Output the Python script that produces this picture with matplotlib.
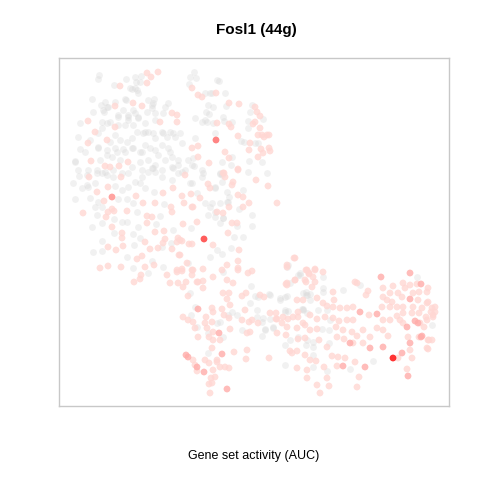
import matplotlib
matplotlib.use("Agg")
import matplotlib.pyplot as plt
import numpy as np
from matplotlib.colors import LinearSegmentedColormap, Normalize

title = "Fosl1 (44g)"
xlabel = "Gene set activity (AUC)"

# t-SNE embedding coordinates (arbitrary units) of cells, grouped by AUC level
gray_cells = [(99,75),(98,79),(141,76),(135,77),(136,82),(126,79),(114,85),(132,89),(137,90),(138,93),(92,99),(126,100),(148,100),(154,99),(152,105),(101,105),(107,107),(104,112),(93,112),(123,110),(128,115),(118,115),(135,113),(147,112),(165,107),(168,103),(155,120),(145,123),(138,118),(128,120),(118,125),(107,123),(102,122),(80,123),(102,128),(78,137),(115,135),(120,140),(127,142),(132,138),(137,132),(143,133),(148,132),(155,138),(163,133),(170,132),(175,137),(180,133),(168,148),(162,145),(155,150),(145,145),(140,152),(132,148),(123,149),(115,148),(107,150),(98,147),(80,149),(193,158),(178,160),(172,157),(165,160),(155,165),(148,160),(140,162),(120,160),(112,157),(100,160),(75,161),(78,170),(88,170),(132,167),(142,170),(153,168),(162,170),(172,167),(185,170),(97,170),(190,77),(189,84),
    (194,72),(196,78),(205,93),(210,93),(212,93),(225,93),(217,80),(219,81),(213,107),(226,106),(252,105),(250,112),(263,119),(248,121),(248,128),(206,112),(209,114),(195,118),(202,122),(205,120),(213,123),(224,121),(215,133),(241,141),(244,142),(255,143),(258,143),(262,162),(249,161),(232,157),(194,166),(231,165),(248,172),(267,173),(203,173),(220,173),
    (79,176),(73,183),(97,173),(102,173),(107,175),(113,177),(128,173),(135,182),(140,183),(148,172),(155,172),(162,177),(172,180),(178,173),(190,183),(87,185),(95,183),(82,188),(115,186),(122,190),(128,187),(145,188),(154,192),(75,199),(90,198),(98,202),(118,199),(127,199),(133,203),(164,204),(95,207),(102,207),(137,212),(160,216),(97,215),(114,219),(122,222),(127,222),(102,223),(92,227),(114,233),(133,234),(138,227),(156,224),(173,230),(191,228),(171,243),(162,247),(140,238),(134,245),(102,241),(93,252),(102,251),(127,257),(152,261),(133,268),(148,273),(163,267),(188,263),
    (202,177),(192,183),(220,174),(215,188),(243,190),(197,193),(227,192),(229,197),(205,203),(212,203),(220,203),(227,202),(210,207),(239,209),(208,215),(215,217),(223,218),(252,215),(220,223),(237,226),(252,226),(234,237),(243,237),(217,250),(231,248),(222,254),(210,257),(223,272),(288,265),(298,275),
    (190,293),(195,307),(191,315),(197,327),(251,286),(237,315),(217,323),(208,333),(223,337),(242,330),(257,317),(255,296),(269,294),(265,329),(262,336),(273,327),(280,300),(285,312),(287,296),(302,309),(307,295),(307,313),(208,353),
    (285,365),(327,371),(313,367),(350,369),(373,361),(285,345),(290,340),(306,345),(313,342),(329,343),(329,330),(322,329),(270,319),(262,322),(303,309),(432,325),(417,277),(360,285),(343,290),(323,288),(323,292),(300,275),(287,267),(306,295),(310,300),(280,298),(285,297),(303,293),(310,294),(306,292),(270,295),(258,297),(250,303),(257,310),(263,318),(273,328),(285,310),(288,311),(303,310),(318,310),(327,310),(330,320),(307,340),(313,347),(313,355),(290,283),(300,273),(323,277),(232,312),(228,315),(265,330),(298,337),(220,322),
    (140,82),(135,88),(130,88),(105,102),(108,107),(103,110),(115,102),(125,99),(133,110),(152,108),(153,103),(163,113),(155,113),(138,117),(128,117),(118,117),(110,122),(125,125),(133,125),(145,132),(153,133),(162,132),(167,137),(173,133),(182,143),(188,160),(195,138),(208,105),(207,122),(223,117),(232,122),(222,162),(222,175),(228,202),(215,212),(223,218),(75,162),(87,175),(88,187),(105,172),(113,170),(122,173),(142,177),(152,168),(173,168),(182,172),(178,165),(192,165),(202,170),(215,187),(222,182),(85,152),(90,140),(98,133),(110,142),(98,148),(107,155),(117,152),(125,152),(133,148),(142,152),(150,148),(158,155),(170,152)]

pink_cells = [(147,73),(158,72),(151,77),(147,83),(120,86),(133,103),(142,106),(115,106),(172,113),(177,115),(177,122),(160,122),(115,127),(88,121),(95,132),(88,143),(107,140),(192,148),(128,162),(91,161),(105,166),(110,167),(119,166),(192,88),
    (198,95),(202,97),(216,93),(229,103),(239,104),(255,107),(257,112),(260,116),(255,122),(253,124),(260,128),(217,123),(229,124),(231,127),(238,136),(250,143),(258,135),(262,135),(267,135),(269,135),(264,137),(249,150),(261,149),(269,148),(270,151),(258,157),(263,153),(225,152),(229,158),(198,146),(198,157),(209,163),(223,173),(238,169),
    (89,177),(121,177),(185,175),(97,192),(108,187),(136,196),(163,193),(173,188),(182,196),(191,194),(104,201),(143,203),(155,203),(171,207),(184,203),(192,207),(83,213),(112,209),(108,212),(114,211),(127,211),(147,216),(152,217),(172,212),(106,217),(112,227),(122,233),(122,238),(147,223),(155,232),(164,231),(183,224),(178,238),(182,241),(189,244),(165,239),(163,243),(158,248),(172,249),(180,255),(150,249),(145,242),(123,246),(108,247),(116,250),(137,259),(142,256),(154,265),(145,267),(141,275),(121,267),(108,266),(100,268),(167,275),(177,270),(182,269),(192,270),(192,275),(140,279),(134,282),(178,283),
    (224,173),(225,177),(238,170),(256,180),(233,182),(232,185),(208,184),(210,188),(268,186),(238,195),(243,197),(200,198),(249,203),(277,203),(193,207),(229,207),(243,207),(217,212),(223,213),(197,222),(232,223),(237,223),(228,233),(213,245),(192,244),(239,250),(238,261),(227,265),(238,268),(238,270),(203,269),(193,270),(222,270),(248,273),(252,271),(213,277),(227,280),(203,281),(198,282),(233,283),(295,258),(287,267),(307,270),(309,273),(315,269),(313,277),(295,280),(306,282),(287,283),
    (177,242),(180,240),(179,255),(187,263),(177,272),(182,271),(170,283),
    (183,287),(186,282),(197,282),(203,288),(188,296),(183,317),(188,320),(193,322),(206,317),(212,308),(213,312),(222,309),(224,315),(230,305),(227,299),(223,293),(229,293),(242,296),(246,293),(245,310),(229,318),(212,322),(205,323),(195,328),(207,328),(213,332),(198,337),(209,337),(213,340),(220,340),(230,329),(250,332),(247,333),(258,323),(249,322),(260,295),(264,297),(270,313),(276,313),(277,319),(277,333),(288,319),(286,335),(287,285),(297,300),(298,317),(303,323),(298,339),(193,360),(195,365),(197,371),(209,363),(205,360),(217,360),(212,348),(217,362),(220,367),(213,370),(225,367),(229,368),(215,377),(211,378),(209,384),(212,383),(210,393),(234,352),(247,350),(246,359),
    (269,358),(297,368),(307,370),(307,378),(317,385),(320,393),(327,378),(329,386),(324,367),(337,366),(359,377),(357,387),(355,362),(345,358),(338,357),(332,356),(316,361),(310,360),(305,355),(297,351),(290,351),(292,353),(305,338),(319,340),(327,347),(337,337),(344,339),(353,343),(363,343),(398,358),(410,350),(408,337),(419,337),(428,340),(432,340),(427,348),(407,369),(412,358),(388,336),(383,330),(377,328),(370,337),(363,330),(357,336),(352,332),(343,330),(336,327),(317,329),(310,330),(305,325),(297,328),(287,327),(282,323),(276,319),(252,320),(242,320),(369,315),(353,320),(347,320),(339,321),(333,318),(325,317),(317,319),(310,315),(298,312),(293,317),(283,317),(383,320),(390,320),(400,320),(420,323),(424,327),(403,323),(397,316),(403,313),(412,313),(419,313),(426,317),(433,315),(435,312),(432,308),(427,303),(418,300),(402,297),(392,302),(387,300),(382,307),(390,307),(397,307),(403,307),(413,307),(422,308),(383,297),(390,293),(398,293),(405,288),(410,285),(417,284),(419,292),(413,293),(427,292),(428,288),(383,288),(393,286),(403,283),(368,291),(366,295),(357,283),(355,282),(333,292),(315,282),(323,272),(315,270),(309,274),(306,270),(294,258),(287,265),(286,284),(295,280),(305,280),(312,287),(303,300),(317,298),(323,303),(327,306),(333,307),(340,308),(347,308),(353,307),(334,300),(433,317),(431,312),(435,307),(428,302),(427,320),(429,340),(428,349)]

salmon_cells = [(198,309),(219,333),(186,355),(188,357),(197,367),(204,372),(222,354),(227,389),(343,366),(365,367),(350,343),(370,348),(383,347),(402,353),(410,343),(422,336),(408,376),(377,314),(360,312),(407,327),(415,321),(410,299),(421,284),(410,273),(381,277),(418,323),(421,337)]

high_cells = [(112,197),(216,140),(204,239),(393,358)]
high_auc = [0.085, 0.105, 0.132, 0.16]

gray_auc = 0.02
pink_auc = 0.045
salmon_auc = 0.068
threshold = 0.04
auc_max = 0.16

cmap = LinearSegmentedColormap.from_list("auc", ["#FFE0DC", "#FF0000"])
norm = Normalize(vmin=threshold, vmax=auc_max)

plt.rcParams["font.family"] = ["Liberation Sans", "DejaVu Sans"]

fig = plt.figure(figsize=(4.8, 4.8), dpi=100)
ax = fig.add_axes([59/480, 74/480, 390/480, 348/480])

def xy(cells):
    a = np.array(cells, dtype=float)
    return a[:, 0], a[:, 1]

S = 24
gx, gy = xy(gray_cells)
ax.scatter(gx, gy, s=S, color="#D8D8D8", alpha=0.35, linewidths=0)

groups = [(pink_cells, [pink_auc]*len(pink_cells)),
          (salmon_cells, [salmon_auc]*len(salmon_cells)),
          (high_cells, high_auc)]
for cells, vals in groups:
    cx, cy = xy(cells)
    ax.scatter(cx, cy, s=S, c=cmap(norm(np.array(vals))), alpha=0.8, linewidths=0)

ax.set_xlim(59, 449)
ax.set_ylim(406, 58)
ax.set_xticks([])
ax.set_yticks([])
for sp in ax.spines.values():
    sp.set_color("#C8C8C8")
    sp.set_linewidth(1.0)

fig.text(256/480, 1 - 30/480, title, ha="center", va="center", fontsize=11, fontweight="bold")
fig.text(254/480, 1 - 456/480, xlabel, ha="center", va="center", fontsize=9)

fig.savefig("out.png", dpi=100)
